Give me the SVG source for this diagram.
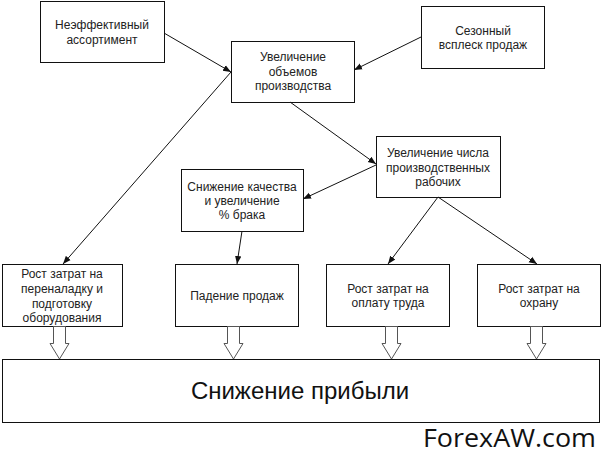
<svg xmlns="http://www.w3.org/2000/svg" width="601" height="464" viewBox="0 0 601 464">
<style>
.box{fill:#fff;stroke:#111;stroke-width:1}
.t{font-family:"Liberation Sans",Arial,sans-serif;font-size:12px;fill:#222;text-anchor:middle}
.big{font-family:"Liberation Sans",Arial,sans-serif;font-size:24px;fill:#111;text-anchor:middle}
.wm{font-family:"Open Sans","Liberation Sans",sans-serif;font-size:25px;fill:#111}
.c{stroke:#111;stroke-width:1;fill:none;marker-end:url(#ah)}
.blk{fill:#fff;stroke:#555;stroke-width:1}
</style>
<defs>
<marker id="ah" viewBox="0 0 10 10" refX="10" refY="5" markerWidth="8" markerHeight="8" markerUnits="userSpaceOnUse" orient="auto">
<path d="M0,1 L10,5 L0,9 Z" fill="#111"/>
</marker>
</defs>
<rect width="601" height="464" fill="#fff"/>
<g id="n1"><rect class="box" x="40.5" y="1.5" width="124" height="61"/>
<text class="t" x="102" y="29">Неэффективный</text><text class="t" x="102" y="44">ассортимент</text></g>
<g id="n2"><rect class="box" x="231.5" y="41.5" width="123" height="61"/>
<text class="t" x="293" y="61">Увеличение</text><text class="t" x="293" y="76">объемов</text><text class="t" x="293" y="90">производства</text></g>
<g id="n3"><rect class="box" x="421.5" y="6.5" width="123" height="62"/>
<text class="t" x="483" y="35">Сезонный</text><text class="t" x="483" y="49">всплеск продаж</text></g>
<g id="n4"><rect class="box" x="376.5" y="136.5" width="124" height="61"/>
<text class="t" x="438" y="157">Увеличение числа</text><text class="t" x="438" y="172">производственных</text><text class="t" x="438" y="186">рабочих</text></g>
<g id="n5"><rect class="box" x="181.5" y="169.5" width="122" height="62"/>
<text class="t" x="242" y="191">Снижение качества</text><text class="t" x="242" y="205">и увеличение</text><text class="t" x="242" y="219">% брака</text></g>
<g id="n6"><rect class="box" x="2.5" y="264.5" width="120" height="62"/>
<text class="t" x="62" y="278">Рост затрат на</text><text class="t" x="62" y="293">переналадку и</text><text class="t" x="62" y="308">подготовку</text><text class="t" x="62" y="322">оборудования</text></g>
<g id="n7"><rect class="box" x="175.5" y="264.5" width="123" height="62"/>
<text class="t" x="237" y="300">Падение продаж</text></g>
<g id="n8"><rect class="box" x="326.5" y="264.5" width="123" height="62"/>
<text class="t" x="388" y="293">Рост затрат на</text><text class="t" x="388" y="307">оплату труда</text></g>
<g id="n9"><rect class="box" x="477.5" y="264.5" width="123" height="62"/>
<text class="t" x="539" y="293">Рост затрат на</text><text class="t" x="539" y="307">охрану</text></g>
<g id="n10"><rect class="box" x="2.5" y="359.5" width="597" height="63"/>
<text class="big" x="300" y="399">Снижение прибыли</text></g>
<g id="connectors">
<line class="c" x1="164" y1="33" x2="231" y2="72"/>
<line class="c" x1="421" y1="37" x2="354" y2="70"/>
<line class="c" x1="231" y1="72" x2="63" y2="264"/>
<line class="c" x1="290" y1="102" x2="376" y2="164"/>
<line class="c" x1="376" y1="165" x2="303" y2="199"/>
<line class="c" x1="242" y1="231" x2="237" y2="264"/>
<line class="c" x1="438" y1="197" x2="388" y2="264"/>
<line class="c" x1="438" y1="197" x2="537" y2="264"/>
<path class="blk" d="M53.5,326.5 V343.5 H50 L59.5,359 L69,343.5 H65.5 V326.5 Z"/>
<path class="blk" d="M227.5,326.5 V343.5 H224 L233.5,359 L243,343.5 H239.5 V326.5 Z"/>
<path class="blk" d="M385.5,326.5 V343.5 H382 L391.5,359 L401,343.5 H397.5 V326.5 Z"/>
<path class="blk" d="M530.5,326.5 V343.5 H527 L536.5,359 L546,343.5 H542.5 V326.5 Z"/>
</g>
<text class="wm" x="423" y="447" textLength="173" lengthAdjust="spacingAndGlyphs">ForexAW.com</text>
</svg>
